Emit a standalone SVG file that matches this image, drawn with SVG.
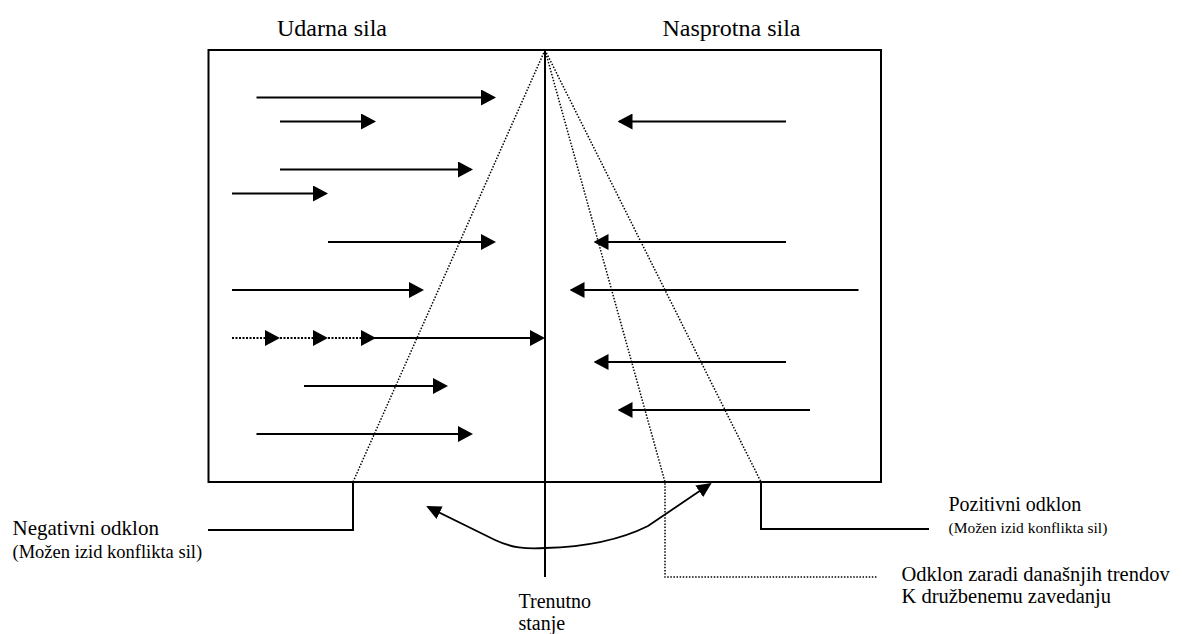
<svg xmlns="http://www.w3.org/2000/svg" width="1182" height="634" viewBox="0 0 1182 634">
<style>
text{font-family:"Liberation Serif","Times New Roman",serif;fill:#000}
.ln{stroke:#000;stroke-width:2;fill:none}
.arr{stroke:#000;stroke-width:2;fill:none;marker-end:url(#ah)}
.dot{stroke:#000;stroke-width:1.5;fill:none;stroke-dasharray:1.5 1.6}
.dotarr{stroke:#000;stroke-width:2;fill:none;stroke-dasharray:2 1.5;marker-end:url(#ah)}
.curve{stroke:#000;stroke-width:1.8;fill:none;marker-start:url(#ch);marker-end:url(#ch)}
</style>
<defs>
<marker id="ah" viewBox="0 0 15 16" refX="13" refY="8" markerWidth="15" markerHeight="16" markerUnits="userSpaceOnUse" orient="auto-start-reverse"><path d="M0,0 L15,8 L0,16 z" fill="#000"/></marker>
<marker id="ch" viewBox="0 0 15 14" refX="13" refY="7" markerWidth="15" markerHeight="14" markerUnits="userSpaceOnUse" orient="auto-start-reverse"><path d="M0,0 L15,7 L0,14 z" fill="#000"/></marker>
</defs>
<rect width="1182" height="634" fill="#fff"/>

<g id="frame">
<rect x="208.5" y="50" width="672.5" height="432" class="ln"/>
<line x1="545" y1="50" x2="545" y2="577" class="ln"/>
</g>

<g id="headers">
<text x="277" y="36" font-size="24">Udarna sila</text>
<text x="662.5" y="36" font-size="24">Nasprotna sila</text>
</g>

<g id="connectors">
<!-- left (Udarna sila) arrows -->
<line x1="256.5" y1="97.5" x2="494" y2="97.5" class="arr"/>
<line x1="280" y1="121.5" x2="374" y2="121.5" class="arr"/>
<line x1="280" y1="169.5" x2="471" y2="169.5" class="arr"/>
<line x1="232" y1="193.5" x2="326" y2="193.5" class="arr"/>
<line x1="328" y1="242" x2="494" y2="242" class="arr"/>
<line x1="232" y1="290" x2="422" y2="290" class="arr"/>
<line x1="232" y1="338" x2="278" y2="338" class="dotarr"/>
<line x1="280" y1="338" x2="326" y2="338" class="dotarr"/>
<line x1="328" y1="338" x2="374" y2="338" class="dotarr"/>
<line x1="374" y1="338" x2="543" y2="338" class="arr"/>
<line x1="304" y1="386" x2="446" y2="386" class="arr"/>
<line x1="256.5" y1="434" x2="471" y2="434" class="arr"/>
<!-- right (Nasprotna sila) arrows -->
<line x1="786" y1="121.5" x2="619.5" y2="121.5" class="arr"/>
<line x1="786" y1="242" x2="595.5" y2="242" class="arr"/>
<line x1="858.5" y1="290" x2="571.5" y2="290" class="arr"/>
<line x1="786" y1="362" x2="595.5" y2="362" class="arr"/>
<line x1="810" y1="410" x2="619.5" y2="410" class="arr"/>
<!-- deviation lines -->
<polyline points="545,50 353,482" class="dot"/>
<polyline points="353,482 353,530 208,530" class="ln"/>
<polyline points="545,50 665,482 665,577 878,577" class="dot"/>
<polyline points="545,50 761,482" class="dot"/>
<polyline points="761,482 761,529 929,529" class="ln"/>
<!-- curved double arrow -->
<path d="M 428 507 L 495 540 C 512 548, 525 549, 545 548 C 585 547, 618 541, 648 526 L 710 484" class="curve"/>
</g>

<g id="label-negative">
<text x="12.5" y="535" font-size="21">Negativni odklon</text>
<text x="12.5" y="558" font-size="18.5">(Možen izid konflikta sil)</text>
</g>
<g id="label-positive">
<text x="948.5" y="510.5" font-size="20">Pozitivni odklon</text>
<text x="948.5" y="533" font-size="15.5">(Možen izid konflikta sil)</text>
</g>
<g id="label-trend">
<text x="901.5" y="580.5" font-size="20.5">Odklon zaradi današnjih trendov</text>
<text x="901.5" y="603" font-size="20.5">K družbenemu zavedanju</text>
</g>
<g id="label-current">
<text x="518.5" y="607.5" font-size="20">Trenutno</text>
<text x="518.5" y="629.5" font-size="20">stanje</text>
</g>
</svg>
